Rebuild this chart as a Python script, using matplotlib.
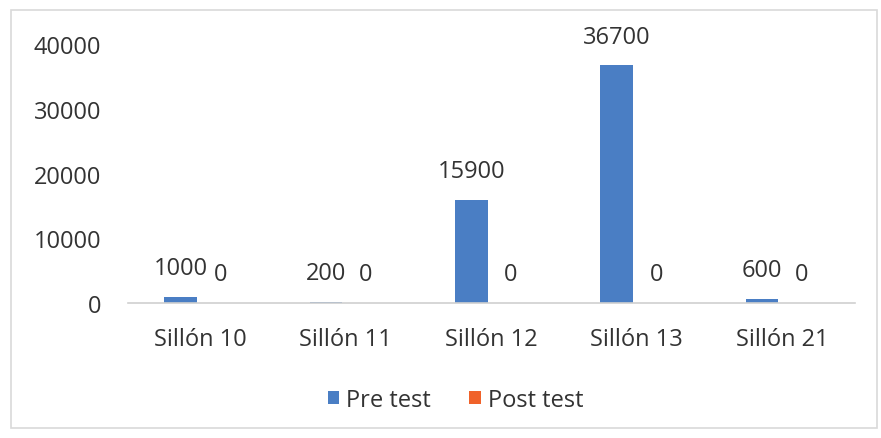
import matplotlib.pyplot as plt
import numpy as np
from matplotlib.patches import Rectangle

categories = ['Sillón 10', 'Sillón 11', 'Sillón 12', 'Sillón 13', 'Sillón 21']
pre_test = [1000, 200, 15900, 36700, 600]
post_test = [0, 0, 0, 0, 0]
yticks = [0, 10000, 20000, 30000, 40000]

plt.rcParams['font.family'] = ['Open Sans', 'DejaVu Sans']
txt = '#333333'
fs = 17

fig = plt.figure(figsize=(8.81, 4.39), dpi=100)
ax = fig.add_axes([0.145, 0.3075, 0.825, 0.59])

# outer chart border
fig.patches.append(Rectangle((0.012, 0.022), 0.983, 0.952, transform=fig.transFigure,
                             fill=False, edgecolor='#d9d9d9', linewidth=1.2))

x = np.arange(len(categories))
w = 0.225
off = 0.137
b1 = ax.bar(x - off, pre_test, w, color='#4a7ec4', label='Pre test')
b2 = ax.bar(x + off, post_test, w, color='#f0622a', label='Post test')

for bars, vals in [(b1, pre_test), (b2, post_test)]:
    for r, v in zip(bars, vals):
        ax.annotate(str(v), (r.get_x() + r.get_width() / 2, v), xytext=(0, 12),
                    textcoords='offset points', ha='center', va='bottom',
                    fontsize=fs, color=txt, annotation_clip=False)

ax.set_xlim(-0.5, len(categories) - 0.5)
ax.set_ylim(0, 40000)
ax.set_yticks(yticks)
ax.set_yticklabels([str(t) for t in yticks])
ax.set_xticks(x)
ax.set_xticklabels(categories)
ax.tick_params(axis='both', length=0, labelsize=fs, colors=txt)
ax.tick_params(axis='y', pad=19)
ax.tick_params(axis='x', pad=17)
for s in ['top', 'right', 'left']:
    ax.spines[s].set_visible(False)
ax.spines['bottom'].set_color('#d0d0d0')
ax.spines['bottom'].set_linewidth(1.2)

leg = fig.legend(loc='center', bbox_to_anchor=(0.517, 0.087), ncol=2, frameon=False,
                 fontsize=fs, handlelength=0.5, handleheight=0.5, handletextpad=0.3,
                 columnspacing=1.6)
for t in leg.get_texts():
    t.set_color(txt)

fig.savefig('out.png', dpi=100)
